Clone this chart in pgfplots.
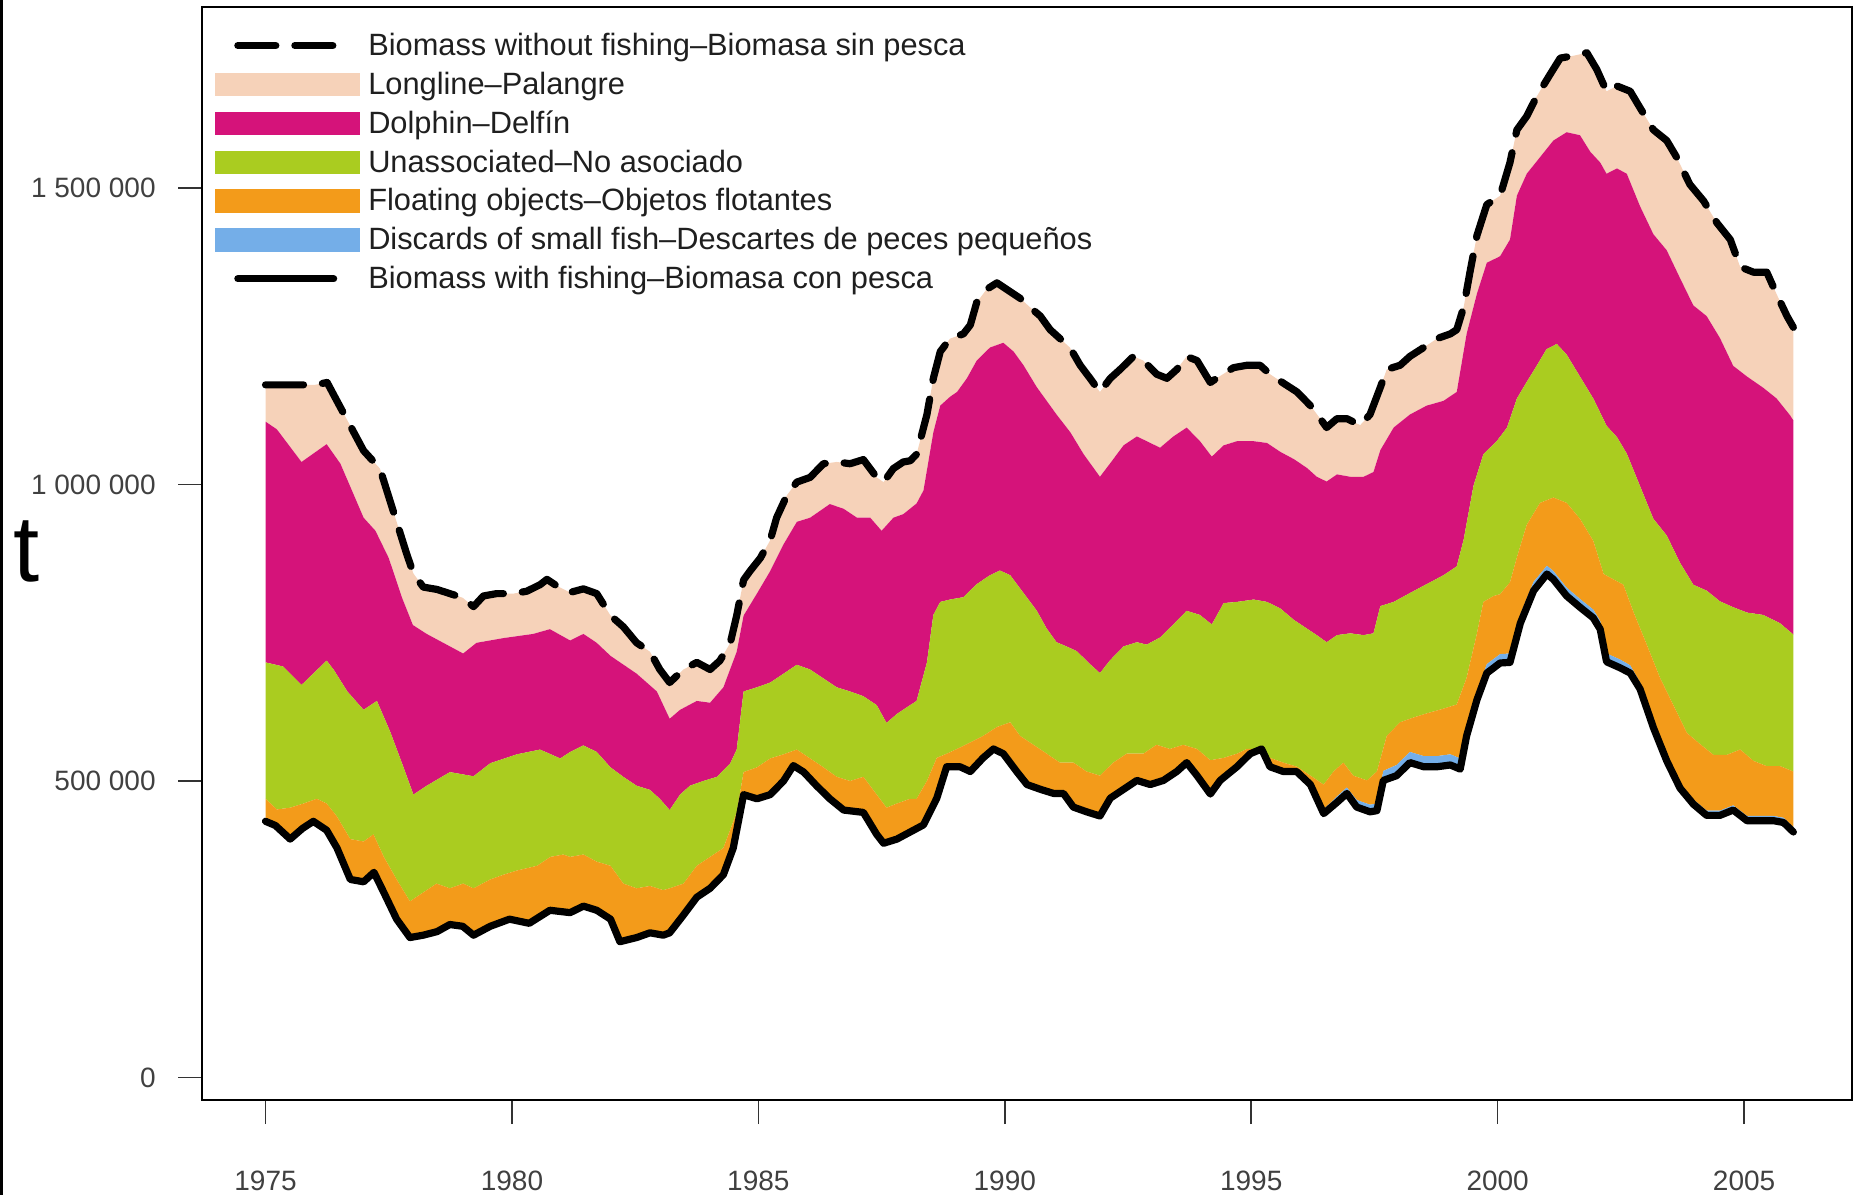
\documentclass[border=0pt]{standalone}
\usepackage{fontspec}
\setmainfont{Liberation Sans}
\usepackage{pgfplots}
\usepackage{pgfplotstable}
\pgfplotsset{compat=1.18}
\usepgfplotslibrary{fillbetween}

\definecolor{cpeach}{RGB}{246,210,185}
\definecolor{cmag}{RGB}{213,19,122}
\definecolor{cgreen}{RGB}{170,204,32}
\definecolor{corange}{RGB}{243,155,26}
\definecolor{cblue}{RGB}{116,174,232}

\pgfplotsset{
  rectleg/.style={legend image code/.code={\fill[##1] (0pt,-5.7pt) rectangle (72pt,5.7pt);}},
  lineleg/.style={legend image code/.code={\path[draw=none,fill=none] (0pt,-5.7pt) rectangle (72pt,5.7pt); \draw[##1] (11.3pt,0pt) -- (59.2pt,0pt);}},
}

% top boundary: biomass without fishing
\pgfplotstableread{
t v
1975.00 1168000
1975.50 1168000
1976.00 1168000
1976.25 1172000
1976.41 1147000
1976.99 1057000
1977.32 1027000
1977.66 937000
1977.86 884000
1978.00 850000
1978.20 827000
1978.48 823000
1978.74 816000
1979.00 809000
1979.22 794000
1979.42 812000
1979.69 816000
1980.03 816000
1980.30 820000
1980.57 831000
1980.71 840000
1980.91 829000
1981.18 818000
1981.45 824000
1981.72 816000
1982.00 779000
1982.26 760000
1982.53 733000
1982.80 718000
1983.00 688000
1983.20 666000
1983.48 688000
1983.75 700000
1984.02 688000
1984.22 703000
1984.43 733000
1984.56 779000
1984.70 839000
1984.83 854000
1985.04 876000
1985.24 906000
1985.37 944000
1985.58 982000
1985.78 1004000
1986.05 1012000
1986.32 1035000
1986.59 1038000
1986.86 1035000
1987.13 1042000
1987.40 1012000
1987.54 1004000
1987.74 1027000
1987.94 1038000
1988.08 1040000
1988.21 1051000
1988.42 1118000
1988.55 1179000
1988.69 1224000
1988.89 1246000
1989.16 1254000
1989.30 1269000
1989.43 1307000
1989.63 1329000
1989.84 1340000
1990.04 1329000
1990.31 1314000
1990.51 1299000
1990.72 1284000
1990.92 1261000
1991.12 1246000
1991.32 1231000
1991.53 1201000
1991.73 1179000
1991.93 1156000
1992.14 1179000
1992.34 1194000
1992.61 1216000
1992.81 1209000
1993.08 1186000
1993.29 1179000
1993.49 1194000
1993.69 1216000
1993.90 1209000
1994.17 1172000
1994.37 1183000
1994.64 1197000
1994.91 1201000
1995.18 1201000
1995.38 1186000
1995.65 1171000
1995.93 1156000
1996.20 1133000
1996.40 1111000
1996.53 1096000
1996.74 1111000
1996.94 1111000
1997.21 1100000
1997.41 1118000
1997.62 1164000
1997.75 1194000
1998.02 1201000
1998.22 1216000
1998.50 1231000
1998.77 1246000
1999.04 1254000
1999.17 1261000
1999.31 1299000
1999.44 1359000
1999.58 1420000
1999.78 1472000
2000.05 1487000
2000.25 1543000
2000.39 1598000
2000.59 1621000
2000.79 1654000
2001.06 1691000
2001.27 1719000
2001.54 1723000
2001.81 1728000
2002.01 1700000
2002.21 1663000
2002.42 1672000
2002.69 1663000
2002.89 1635000
2003.16 1598000
2003.43 1580000
2003.63 1552000
2003.90 1506000
2004.18 1478000
2004.45 1441000
2004.72 1413000
2004.92 1367000
2005.19 1358000
2005.46 1358000
2005.66 1321000
2005.87 1284000
2006.00 1265000
}\tfive

% top of dolphin
\pgfplotstableread{
t v
1975.00 1106000
1975.23 1093000
1975.73 1038000
1976.24 1068000
1976.52 1035000
1976.99 944000
1977.23 922000
1977.50 876000
1977.77 809000
1977.99 763000
1978.27 748000
1979.01 715000
1979.28 733000
1979.83 741000
1980.43 748000
1980.77 756000
1981.18 737000
1981.45 748000
1981.72 733000
1982.00 711000
1982.53 681000
1982.94 651000
1983.20 605000
1983.41 620000
1983.75 635000
1984.02 632000
1984.29 658000
1984.56 718000
1984.70 779000
1984.97 816000
1985.24 854000
1985.51 899000
1985.78 937000
1986.05 944000
1986.45 967000
1986.73 959000
1987.00 944000
1987.27 944000
1987.50 922000
1987.74 944000
1987.94 950000
1988.21 968000
1988.35 990000
1988.55 1088000
1988.69 1133000
1988.89 1148000
1989.03 1156000
1989.23 1179000
1989.43 1209000
1989.70 1231000
1989.97 1239000
1990.18 1224000
1990.38 1201000
1990.65 1164000
1990.85 1141000
1991.05 1118000
1991.33 1088000
1991.60 1051000
1991.80 1028000
1991.93 1013000
1992.14 1036000
1992.41 1066000
1992.68 1081000
1992.88 1073000
1993.15 1062000
1993.42 1081000
1993.69 1096000
1993.96 1073000
1994.20 1047000
1994.44 1066000
1994.71 1073000
1995.05 1073000
1995.32 1070000
1995.59 1055000
1995.86 1043000
1996.13 1028000
1996.33 1013000
1996.53 1005000
1996.74 1017000
1997.01 1013000
1997.28 1013000
1997.48 1021000
1997.62 1058000
1997.89 1096000
1998.22 1118000
1998.56 1133000
1998.90 1141000
1999.17 1156000
1999.37 1254000
1999.58 1322000
1999.78 1374000
1999.98 1382000
2000.05 1385000
2000.25 1413000
2000.39 1487000
2000.59 1524000
2000.86 1552000
2001.13 1580000
2001.40 1594000
2001.67 1589000
2001.88 1561000
2002.08 1543000
2002.21 1524000
2002.42 1533000
2002.62 1524000
2002.89 1469000
2003.16 1422000
2003.43 1395000
2003.70 1348000
2003.97 1302000
2004.24 1284000
2004.51 1247000
2004.78 1200000
2005.06 1182000
2005.39 1163000
2005.66 1145000
2005.93 1117000
2006.00 1108000
}\tfour

% top of unassociated
\pgfplotstableread{
t v
1975.00 700000
1975.36 693000
1975.73 662000
1976.24 703000
1976.38 688000
1976.66 651000
1976.99 620000
1977.26 635000
1977.53 583000
1977.80 523000
1978.00 477000
1978.27 492000
1978.74 515000
1979.22 508000
1979.56 530000
1980.10 545000
1980.57 553000
1980.98 538000
1981.18 549000
1981.45 560000
1981.72 549000
1982.00 523000
1982.26 507000
1982.53 492000
1982.80 485000
1983.00 470000
1983.20 451000
1983.41 477000
1983.61 492000
1983.88 500000
1984.16 507000
1984.43 530000
1984.56 553000
1984.70 651000
1984.97 658000
1985.24 666000
1985.51 681000
1985.78 696000
1986.05 688000
1986.32 673000
1986.59 658000
1986.86 651000
1987.13 643000
1987.40 628000
1987.60 598000
1987.81 613000
1988.08 628000
1988.21 635000
1988.42 700000
1988.55 780000
1988.69 802000
1988.89 806000
1989.16 810000
1989.43 832000
1989.70 847000
1989.90 855000
1990.11 847000
1990.38 817000
1990.65 787000
1990.85 757000
1991.05 734000
1991.25 727000
1991.46 719000
1991.73 697000
1991.93 682000
1992.14 704000
1992.41 727000
1992.68 734000
1992.88 730000
1993.15 742000
1993.42 764000
1993.69 787000
1993.96 780000
1994.20 764000
1994.44 800000
1994.71 802000
1995.05 806000
1995.32 802000
1995.59 791000
1995.86 772000
1996.13 757000
1996.33 746000
1996.53 734000
1996.74 746000
1997.01 749000
1997.28 746000
1997.48 749000
1997.62 795000
1997.89 802000
1998.22 817000
1998.56 832000
1998.90 847000
1999.17 862000
1999.31 907000
1999.51 998000
1999.71 1051000
1999.98 1073000
2000.19 1096000
2000.39 1145000
2000.59 1173000
2000.79 1200000
2000.99 1228000
2001.20 1237000
2001.40 1219000
2001.67 1182000
2001.94 1145000
2002.21 1099000
2002.42 1080000
2002.62 1052000
2002.89 997000
2003.16 942000
2003.43 914000
2003.70 868000
2003.97 831000
2004.24 821000
2004.51 803000
2004.78 793000
2005.06 784000
2005.39 780000
2005.73 766000
2006.00 747000
}\tthree

% top of floating objects
\pgfplotstableread{
t v
1975.00 470000
1975.23 452000
1975.50 455000
1975.77 462000
1976.04 470000
1976.24 462000
1976.45 440000
1976.72 402000
1976.99 398000
1977.19 410000
1977.40 372000
1977.66 334000
1977.93 297000
1978.20 312000
1978.47 327000
1978.74 319000
1979.01 327000
1979.22 319000
1979.56 334000
1979.83 342000
1980.10 349000
1980.51 357000
1980.78 372000
1981.04 376000
1981.18 372000
1981.45 376000
1981.72 364000
1982.00 357000
1982.26 327000
1982.53 319000
1982.80 323000
1983.07 316000
1983.20 319000
1983.48 327000
1983.75 357000
1984.02 372000
1984.29 387000
1984.56 447000
1984.70 515000
1984.97 523000
1985.24 538000
1985.51 545000
1985.78 553000
1986.05 538000
1986.32 523000
1986.59 507000
1986.86 500000
1987.13 507000
1987.40 477000
1987.60 455000
1987.81 462000
1988.08 470000
1988.21 470000
1988.42 500000
1988.62 539000
1988.82 546000
1989.03 554000
1989.30 565000
1989.56 576000
1989.84 591000
1990.11 599000
1990.31 576000
1990.58 561000
1990.85 546000
1991.12 531000
1991.39 531000
1991.66 516000
1991.93 509000
1992.20 531000
1992.47 546000
1992.81 546000
1993.08 561000
1993.35 554000
1993.62 561000
1993.90 554000
1994.17 535000
1994.44 539000
1994.71 546000
1994.91 554000
1995.18 554000
1995.38 539000
1995.65 531000
1995.93 524000
1996.20 509000
1996.47 494000
1996.67 516000
1996.87 531000
1997.07 509000
1997.35 501000
1997.55 516000
1997.75 576000
1998.02 599000
1998.29 607000
1998.56 614000
1998.90 622000
1999.17 629000
1999.37 674000
1999.58 749000
1999.71 802000
1999.92 812000
2000.05 815000
2000.25 835000
2000.39 877000
2000.59 932000
2000.86 969000
2001.13 978000
2001.40 969000
2001.67 942000
2001.94 905000
2002.15 849000
2002.35 840000
2002.55 831000
2002.76 784000
2003.03 729000
2003.30 673000
2003.57 627000
2003.84 581000
2004.11 562000
2004.38 544000
2004.65 544000
2004.92 553000
2005.19 534000
2005.46 525000
2005.73 525000
2006.00 516000
}\ttwo

% biomass with fishing (v) and discards band (d)
\pgfplotstableread{
t v d
1975.00 432000 0
1975.20 425000 0
1975.50 402000 0
1975.75 420000 0
1975.97 432000 0
1976.24 417000 0
1976.45 387000 0
1976.72 334000 0
1976.99 330000 0
1977.20 346000 0
1977.40 312000 0
1977.66 267000 0
1977.93 236000 0
1978.20 240000 0
1978.48 246000 0
1978.74 258000 0
1979.00 255000 0
1979.22 240000 0
1979.56 255000 0
1979.95 267000 0
1980.35 260000 0
1980.77 282000 0
1981.18 278000 0
1981.45 289000 0
1981.72 282000 0
1982.00 267000 0
1982.19 229000 0
1982.53 236000 0
1982.80 244000 0
1983.07 240000 0
1983.20 244000 0
1983.48 274000 0
1983.75 304000 0
1984.02 319000 0
1984.29 342000 0
1984.49 387000 0
1984.70 477000 0
1984.97 470000 0
1985.24 477000 0
1985.51 500000 0
1985.71 526000 0
1985.92 515000 0
1986.18 492000 0
1986.45 470000 0
1986.73 451000 0
1987.13 447000 0
1987.40 410000 0
1987.54 395000 0
1987.81 402000 0
1988.08 414000 0
1988.35 426000 0
1988.62 471000 0
1988.82 524000 0
1989.09 524000 0
1989.30 516000 0
1989.56 539000 0
1989.77 554000 0
1989.97 546000 0
1990.24 516000 0
1990.45 494000 0
1990.72 486000 0
1990.99 479000 0
1991.19 479000 0
1991.39 456000 0
1991.66 448000 0
1991.93 441000 0
1992.14 471000 0
1992.41 486000 0
1992.68 501000 0
1992.95 494000 2000
1993.22 501000 3000
1993.49 516000 3000
1993.69 531000 3000
1993.90 509000 3000
1994.17 478000 3000
1994.37 501000 3000
1994.71 524000 3000
1994.98 546000 3000
1995.21 554000 3000
1995.38 524000 3000
1995.65 516000 4000
1995.92 516000 4000
1996.20 494000 5000
1996.47 445000 7000
1996.74 464000 10000
1996.94 479000 10000
1997.14 456000 12000
1997.41 448000 12000
1997.55 450000 12000
1997.68 501000 16000
1997.95 509000 18000
1998.22 531000 18000
1998.50 524000 18000
1998.77 524000 18000
1999.04 527000 18000
1999.24 520000 18000
1999.37 576000 16000
1999.58 637000 15000
1999.78 682000 15000
2000.05 699000 15000
2000.25 700000 15000
2000.46 766000 15000
2000.73 821000 15000
2001.00 849000 14000
2001.13 840000 14000
2001.40 812000 14000
2001.67 793000 14000
2001.94 775000 14000
2002.08 756000 14000
2002.21 701000 14000
2002.48 691000 14000
2002.69 682000 13000
2002.89 655000 11000
2003.16 590000 9000
2003.43 534000 8000
2003.70 488000 8000
2003.97 461000 8000
2004.24 442000 8000
2004.51 442000 8000
2004.78 451000 8000
2005.06 433000 8000
2005.33 433000 8000
2005.60 433000 8000
2005.80 430000 8000
2006.00 414000 8000
}\tzero

\begin{document}
\begin{tikzpicture}
\begin{axis}[
  at={(101pt,47.5pt)}, anchor=south west,
  width=825pt, height=546.5pt, scale only axis,
  xmin=1973.711, xmax=2007.19, ymin=-37940, ymax=1805200,
  axis line style={line width=1.2pt, black},
  xtick={1975,1980,1985,1990,1995,2000,2005},
  xticklabels={1975,1980,1985,1990,1995,2000,2005},
  ytick={0,500000,1000000,1500000},
  yticklabels={0,500 000,1 000 000,1 500 000},
  scaled ticks=false,
  tick align=outside, xtick pos=bottom, ytick pos=left,
  major tick length=12pt,
  tick style={line width=0.8pt, black!80},
  /pgf/number format/assume math mode=true,
  ticklabel style={font=\fontsize{14}{16}\selectfont, text=black!75, inner sep=0pt},
  xticklabel style={anchor=north, yshift=-23.5pt},
  yticklabel style={anchor=east, xshift=-11pt},
  legend style={draw=none, fill=none,
    at={(axis description cs:0.0039,0.984)}, anchor=north west,
    font=\fontsize{15.4}{18}\selectfont, text=black!88,
    row sep=2.75pt,
    /tikz/every odd column/.append style={column sep=2.3pt}},
  legend cell align=left,
]
% legend
\addlegendimage{lineleg, black, line width=3.6pt, line cap=round, dash pattern=on 19pt off 9.5pt}
\addlegendentry{Biomass without fishing--Biomasa sin pesca}
\addlegendimage{rectleg, cpeach}
\addlegendentry{Longline--Palangre}
\addlegendimage{rectleg, cmag}
\addlegendentry{Dolphin--Delfín}
\addlegendimage{rectleg, cgreen}
\addlegendentry{Unassociated--No asociado}
\addlegendimage{rectleg, corange}
\addlegendentry{Floating objects--Objetos flotantes}
\addlegendimage{rectleg, cblue}
\addlegendentry{Discards of small fish--Descartes de peces pequeños}
\addlegendimage{lineleg, black, line width=3.6pt, line cap=round}
\addlegendentry{Biomass with fishing--Biomasa con pesca}

% boundaries
\addplot[draw=none, name path=P5, forget plot] table[x=t,y=v] {\tfive};
\addplot[draw=none, name path=P4, forget plot] table[x=t,y=v] {\tfour};
\addplot[draw=none, name path=P3, forget plot] table[x=t,y=v] {\tthree};
\addplot[draw=none, name path=P2, forget plot] table[x=t,y=v] {\ttwo};
\addplot[draw=none, name path=P1, forget plot] table[x=t,y expr=\thisrow{v}+\thisrow{d}] {\tzero};
\addplot[draw=none, name path=P0, forget plot] table[x=t,y=v] {\tzero};
% bands
\addplot[fill=cpeach, draw=none, forget plot] fill between[of=P5 and P4];
\addplot[fill=cmag, draw=none, forget plot] fill between[of=P4 and P3];
\addplot[fill=cgreen, draw=none, forget plot] fill between[of=P3 and P2];
\addplot[fill=corange, draw=none, forget plot] fill between[of=P2 and P1];
\addplot[fill=cblue, draw=none, forget plot] fill between[of=P1 and P0];
% lines
\addplot[black, line width=3.6pt, line join=round, line cap=round, forget plot] table[x=t,y=v] {\tzero};
\addplot[black, line width=3.6pt, line join=round, line cap=round, dash pattern=on 19pt off 9.5pt, forget plot] table[x=t,y=v] {\tfive};
\end{axis}
\node[font=\fontsize{47}{50}\selectfont, anchor=base] at (13.5pt,306.5pt) {t};
\fill[black] (0pt,0pt) rectangle (1.4pt,597.5pt);
\pgfresetboundingbox
\path[use as bounding box] (0pt,0pt) rectangle (928pt,597.5pt);
\end{tikzpicture}
\end{document}
